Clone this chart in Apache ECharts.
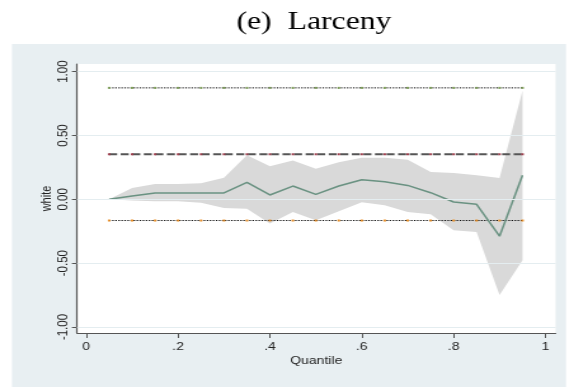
<!DOCTYPE html>
<html>
<head>
<meta charset="utf-8">
<script src="https://cdn.jsdelivr.net/npm/echarts@6/dist/echarts.min.js"></script>
<style>
  html, body { margin: 0; padding: 0; background: #fff; overflow: hidden; }
  #wrap { width: 576px; height: 387px; overflow: hidden; }
  /* the figure is laid out narrow and widened horizontally */
  #chart { height: 387px; transform-origin: 0 0; }
</style>
</head>
<body>
<div id="wrap"><div id="chart"></div></div>
<script>
// Quantile regression estimates for the "white" coefficient, larceny model
const quantiles = [0.05, 0.10, 0.15, 0.20, 0.25, 0.30, 0.35, 0.40, 0.45, 0.50,
                   0.55, 0.60, 0.65, 0.70, 0.75, 0.80, 0.85, 0.90, 0.95];
const coef  = [0.000, 0.026, 0.050, 0.050, 0.050, 0.050, 0.133, 0.034, 0.104, 0.039,
               0.104, 0.154, 0.138, 0.109, 0.052, -0.021, -0.039, -0.289, 0.188];
const upper = [0.000, 0.088, 0.120, 0.120, 0.125, 0.170, 0.346, 0.260, 0.305, 0.240,
               0.290, 0.325, 0.325, 0.310, 0.215, 0.206, 0.188, 0.167, 0.850];
const lower = [0.000, -0.010, -0.016, -0.016, -0.026, -0.068, -0.073, -0.190, -0.099, -0.164,
               -0.094, -0.023, -0.047, -0.099, -0.117, -0.242, -0.255, -0.750, -0.477];

// OLS estimate and its confidence bounds
const olsCoef  = 0.353;
const olsUpper = 0.873;
const olsLower = -0.166;

// Axis ticks
const xTicks = [0, 0.2, 0.4, 0.6, 0.8, 1];
const xTickLabels = ['0', '.2', '.4', '.6', '.8', '1'];
const yTicks = [-1, -0.5, 0, 0.5, 1];
const yTickLabels = ['-1.00', '-0.50', '0.00', '0.50', '1.00'];

const FONT = '"Liberation Sans", Arial, sans-serif';

// horizontal widening factor of the figure
const S = 1.27;
const W = 576 / S;
const el = document.getElementById('chart');
el.style.width = W + 'px';
el.style.transform = 'scaleX(' + S + ')';

const pairs = arr => quantiles.map((q, i) => [q, arr[i]]);
const constant = v => quantiles.map(q => [q, v]);

const chart = echarts.init(el, null, { renderer: 'canvas' });

chart.setOption({
  animation: false,
  backgroundColor: '#ffffff',
  graphic: [
    {
      type: 'rect',
      z: -10,
      shape: { x: 12 / S, y: 44, width: 554 / S, height: 343 },
      style: { fill: '#e8eff2' },
      silent: true
    },
    {
      type: 'text',
      x: 314 / S,
      y: 22,
      style: {
        text: '(e)  Larceny',
        fontFamily: '"Liberation Serif", "Times New Roman", serif',
        fontSize: 25,
        fill: '#000',
        align: 'center',
        verticalAlign: 'middle'
      },
      silent: true
    }
  ],
  grid: {
    left: 77 / S, top: 64, right: 21 / S, bottom: 54,
    show: true, backgroundColor: '#ffffff', borderWidth: 0
  },
  xAxis: {
    type: 'value',
    min: -0.02, max: 1.022,
    name: 'Quantile',
    nameLocation: 'middle',
    nameGap: 22,
    nameMoveOverlap: false,
    nameTextStyle: { fontFamily: FONT, fontSize: 11, color: '#222' },
    axisLine: { onZero: false, lineStyle: { color: '#555', width: 1.2 } },
    axisTick: { show: true, length: 5, customValues: xTicks, lineStyle: { color: '#555' } },
    axisLabel: {
      customValues: xTicks,
      margin: 8,
      fontFamily: FONT, fontSize: 11, color: '#222',
      formatter: v => xTickLabels[xTicks.findIndex(t => Math.abs(t - v) < 1e-9)] ?? ''
    },
    splitLine: { show: false }
  },
  yAxis: {
    type: 'value',
    min: -1.047, max: 1.06,
    name: 'white',
    nameLocation: 'middle',
    nameRotate: 90,
    nameGap: 18,
    nameMoveOverlap: false,
    nameTextStyle: { fontFamily: FONT, fontSize: 11, color: '#222' },
    axisLine: { show: true, onZero: false, lineStyle: { color: '#555', width: 1.2 } },
    axisTick: { show: true, length: 4, customValues: yTicks, lineStyle: { color: '#555' } },
    axisLabel: {
      customValues: yTicks,
      rotate: 90,
      margin: 5,
      fontFamily: FONT, fontSize: 11.5, color: '#222',
      formatter: v => yTickLabels[yTicks.findIndex(t => Math.abs(t - v) < 1e-9)] ?? ''
    },
    splitLine: { show: false }
  },
  series: [
    {
      // horizontal gridlines at the labelled y values
      type: 'line',
      data: [],
      silent: true,
      z: 1,
      markLine: {
        silent: true,
        symbol: 'none',
        label: { show: false },
        lineStyle: { color: '#e4edf0', width: 1, type: 'solid' },
        data: yTicks.map(v => ({ yAxis: v }))
      }
    },
    {
      // confidence band of the quantile estimates
      type: 'custom',
      silent: true,
      z: 2,
      data: [0],
      renderItem: (params, api) => {
        const top = quantiles.map((q, i) => api.coord([q, upper[i]]));
        const bottom = quantiles.map((q, i) => api.coord([q, lower[i]])).reverse();
        return {
          type: 'polygon',
          shape: { points: top.concat(bottom) },
          style: { fill: '#d9d9d9' }
        };
      }
    },
    {
      name: 'olsUpper',
      type: 'line',
      data: constant(olsUpper),
      symbol: 'rect', symbolSize: 2,
      itemStyle: { color: '#7f9f5a' },
      lineStyle: { color: '#000', width: 1, type: [1.2, 1.2] },
      z: 3
    },
    {
      name: 'olsCoef',
      type: 'line',
      data: constant(olsCoef),
      symbol: 'rect', symbolSize: 2,
      itemStyle: { color: '#a0404f' },
      lineStyle: { color: '#555555', width: 2, type: [6.3, 2.8] },
      z: 3
    },
    {
      name: 'olsLower',
      type: 'line',
      data: constant(olsLower),
      symbol: 'rect', symbolSize: 2,
      itemStyle: { color: '#e8902a' },
      lineStyle: { color: '#000', width: 1, type: [1.2, 1.2] },
      z: 3
    },
    {
      name: 'coef',
      type: 'line',
      data: pairs(coef),
      symbol: 'none',
      lineStyle: { color: '#6a9282', width: 1.5 },
      z: 4
    }
  ]
});
</script>
</body>
</html>
